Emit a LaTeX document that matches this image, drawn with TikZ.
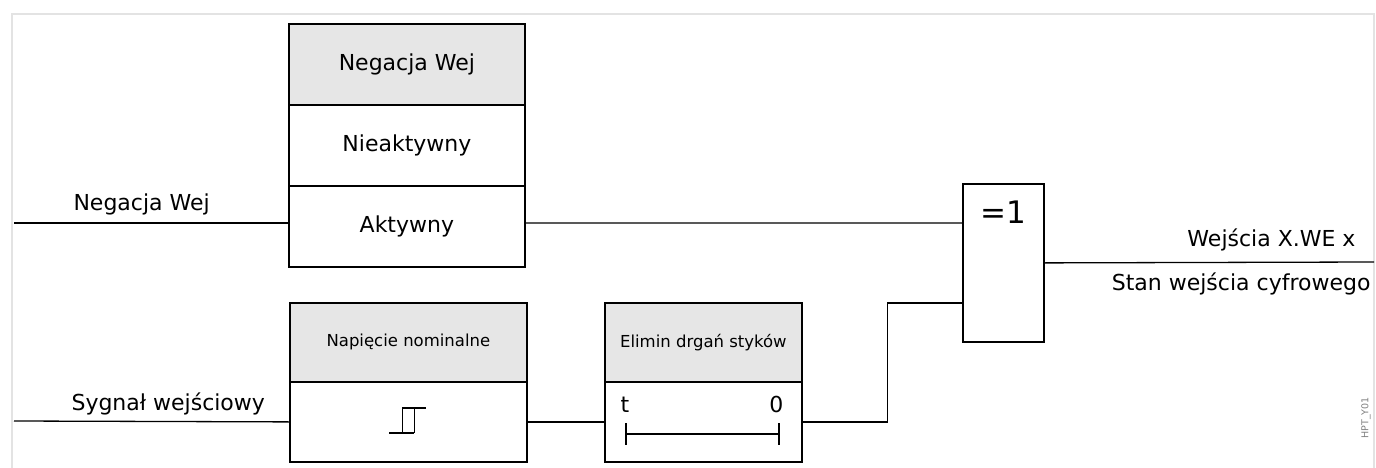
\documentclass[tikz,border=0pt]{standalone}
\usepackage{fontspec}
\setmainfont{DejaVu Sans}
\usetikzlibrary{calc}
\definecolor{hdrgray}{HTML}{E6E6E6}
\definecolor{framegray}{HTML}{E3E3E3}

\begin{document}
\begin{tikzpicture}[x=1pt, y=-1pt, font=\fontsize{22}{26}\selectfont]
  \tikzset{
    cellbox/.style={draw, line width=1.8pt, inner sep=0pt, anchor=north west},
    hdrbox/.style={cellbox, fill=hdrgray},
    small/.style={font=\fontsize{16.5}{20}\selectfont},
    wire/.style={line width=1.3pt}
  }
  \useasboundingbox (0,0) rectangle (1376,468);

  % Frame
  \draw[framegray, line width=1.5pt] (12,480) -- (12,14) -- (1374,14) -- (1374,480);

  % Negation block
  \node[hdrbox, minimum width=236, minimum height=81] (neghdr) at (288,23) {Negacja Wej};
  \node[cellbox, minimum width=236, minimum height=81] (negoff) at (288,104) {Nieaktywny};
  \node[cellbox, minimum width=236, minimum height=81] (negact) at (288,185) {Aktywny};

  % Nominal voltage block
  \node[hdrbox, small, minimum width=237, minimum height=79] (nomhdr) at (289,302) {Napięcie nominalne};
  \node[cellbox, minimum width=237, minimum height=80] (nomrow) at (289,381) {};
  \draw[wire] ($(nomrow.center)+(-19,11)$) -- ++(25,0)
    ($(nomrow.center)+(-6,11)$) -- ++(0,-25) -- ++(24,0)
    ($(nomrow.center)+(6,11)$) -- ++(0,-25);

  % Debounce block
  \node[hdrbox, small, minimum width=197, minimum height=79] (debhdr) at (604,302) {Elimin drgań styków};
  \node[cellbox, minimum width=197, minimum height=80] (debrow) at (604,381) {};
  \node[anchor=base west] (debt) at (617,412) {t};
  \node[anchor=base east] (debz) at (787,412) {0};
  \draw[wire] (626,423) -- (626,445) (626,434) -- (779,434) (779,423) -- (779,445);

  % XOR gate
  \node[cellbox, minimum width=81, minimum height=158] (xor) at (962,183) {};
  \node[font=\fontsize{31}{36}\selectfont] (xorlbl) at ($(xor.north)+(0,29)$) {=1};
  \coordinate (xin1) at ($(xor.south west)!0.75!(xor.north west)$);
  \coordinate (xin2) at ($(xor.south west)!0.25!(xor.north west)$);

  % Inputs and outputs
  \coordinate (negin) at (14,223);
  \coordinate (sigin) at (14,421);
  \coordinate (xout) at (1374,262);
  \node[anchor=base west] (neglbl) at (70,210) {Negacja Wej};
  \node[anchor=base west] (siglbl) at (68,410) {Sygnał wejściowy};
  \node[anchor=base east] (outlbl1) at (1359,246) {Wejścia X.WE x};
  \node[anchor=base east] (outlbl2) at (1374,290) {Stan wejścia cyfrowego};

  % Connections
  \draw[wire] (negin) -- (negin -| negact.west);
  \draw[wire] (negin -| negact.east) -- (xin1);
  \draw[wire] (sigin) -- (nomrow.west);
  \draw[wire] (nomrow.east) -- (debrow.west);
  \draw[wire] (debrow.east) -- ++(85,0) |- (xin2);
  \draw[wire] (xor.east) -- (xout);

  % Drawing id
  \node[rotate=90, text=gray, font=\fontsize{9.5}{11}\selectfont] (drwid) at (1366,418) {HPT\_Y01};
\end{tikzpicture}
\end{document}
